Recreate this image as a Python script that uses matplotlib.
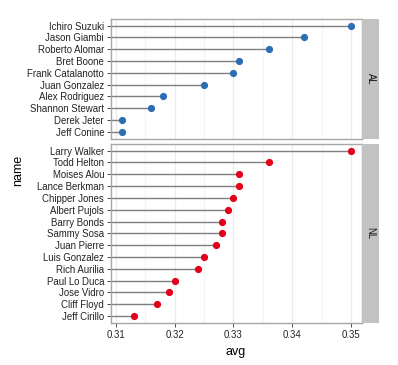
import matplotlib
matplotlib.use("Agg")
import matplotlib.pyplot as plt
import numpy as np

al_names = ["Ichiro Suzuki", "Jason Giambi", "Roberto Alomar", "Bret Boone",
            "Frank Catalanotto", "Juan Gonzalez", "Alex Rodriguez",
            "Shannon Stewart", "Derek Jeter", "Jeff Conine"]
al_avg = [0.350, 0.342, 0.336, 0.331, 0.330, 0.325, 0.318, 0.316, 0.311, 0.311]

nl_names = ["Larry Walker", "Todd Helton", "Moises Alou", "Lance Berkman",
            "Chipper Jones", "Albert Pujols", "Barry Bonds", "Sammy Sosa",
            "Juan Pierre", "Luis Gonzalez", "Rich Aurilia", "Paul Lo Duca",
            "Jose Vidro", "Cliff Floyd", "Jeff Cirillo"]
nl_avg = [0.350, 0.336, 0.331, 0.331, 0.330, 0.329, 0.328, 0.328, 0.327,
          0.325, 0.324, 0.320, 0.319, 0.317, 0.313]

x_ticks = [0.31, 0.32, 0.33, 0.34, 0.35]
x_tick_labels = ["0.31", "0.32", "0.33", "0.34", "0.35"]

plt.rcParams['font.family'] = ['Liberation Sans', 'DejaVu Sans']

W, H = 398, 365
fig = plt.figure(figsize=(W / 100, H / 100), dpi=100)

xlim = (0.30917, 0.35187)
left_px, right_px = 111, 362
strip_w = 17

panels = [
    ("AL", al_names, al_avg, "#2C6EB5", 19, 138.5),
    ("NL", nl_names, nl_avg, "#E3001B", 144, 322.7),
]

for i, (lab, names, vals, col, top_px, bot_px) in enumerate(panels):
    ax = fig.add_axes([left_px / W, 1 - bot_px / H, (right_px - left_px) / W,
                       (bot_px - top_px) / H])
    n = len(names)
    y = np.arange(n)[::-1]
    ax.set_xlim(*xlim)
    ax.set_ylim(-0.56, n - 1 + 0.56)
    ax.set_xticks(x_ticks)
    ax.set_xticks([0.315, 0.325, 0.335, 0.345], minor=True)
    ax.grid(axis='x', which='major', color='#EBEBEB', lw=0.9)
    ax.grid(axis='x', which='minor', color='#F5F5F5', lw=0.9)
    ax.set_axisbelow(True)
    ax.hlines(y, xlim[0], vals, color='#7F7F7F', lw=1.0, zorder=2)
    ax.plot(vals, y, 'o', color=col, ms=5.2, zorder=3, mec='none')
    ax.set_yticks(y)
    ax.set_yticklabels(names, fontsize=6.9, color='#222222')
    ax.tick_params(axis='y', length=3, width=0.7, color='#4D4D4D', pad=2)
    ax.tick_params(axis='x', which='minor', length=0)
    if i == 0:
        ax.tick_params(axis='x', which='major', length=0, labelbottom=False)
    else:
        ax.set_xticklabels(x_tick_labels, fontsize=6.9, color='#222222')
        ax.tick_params(axis='x', which='major', length=3, width=0.7,
                       color='#4D4D4D', pad=2)
    for s in ax.spines.values():
        s.set_color('#A6A6A6')
        s.set_linewidth(1.0)
    # strip
    sax = fig.add_axes([right_px / W, 1 - bot_px / H, strip_w / W,
                        (bot_px - top_px) / H])
    sax.set_facecolor('#C2C2C2')
    sax.set_xticks([])
    sax.set_yticks([])
    for s in sax.spines.values():
        s.set_visible(False)
    sax.text(0.5, 0.5, lab, rotation=270, ha='center', va='center',
             fontsize=6.9, color='#111111', transform=sax.transAxes)

fig.text(18 / W, 1 - 170 / H, "name", rotation=90, ha='center', va='center',
         fontsize=9, color='black')
fig.text(236 / W, 1 - 352 / H, "avg", ha='center', va='center',
         fontsize=9, color='black')

fig.savefig("out.png", dpi=100, facecolor='white')
